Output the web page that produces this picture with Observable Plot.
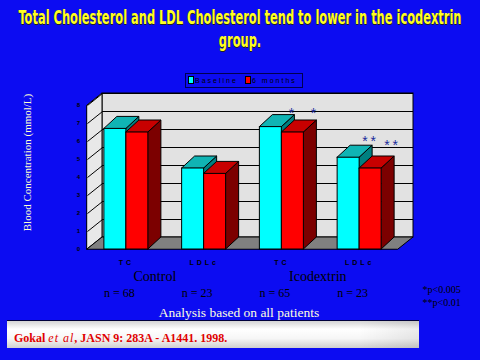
<!DOCTYPE html>
<html>
<head>
<meta charset="utf-8">
<script src="https://cdn.jsdelivr.net/npm/d3@7"></script>
<script src="https://cdn.jsdelivr.net/npm/@observablehq/plot@0.6"></script>
<style>
  html, body { margin: 0; padding: 0; }
  body { width: 480px; height: 360px; overflow: hidden; position: relative; background: #0c0cf2; }
  #title { position: relative; height: 56px; color: #ffff22;
    font: bold 19px/23px "Liberation Sans Narrow", "DejaVu Sans Condensed", "Liberation Sans", sans-serif;
    text-shadow: 1px 1px 0 #202020; }
  #title span { position: absolute; left: 50%; white-space: nowrap; transform-origin: center; }
  #t1 { top: 6px; }
  #t2 { top: 29px; }
  #legend { position: absolute; left: 185px; top: 73px; width: 118px; height: 15px; box-sizing: border-box; border: 1px solid #000050; }
  #legend .sw { position: absolute; top: 2px; width: 6px; height: 8px; border: 1px solid #000; box-sizing: border-box; }
  #legend .lt { position: absolute; top: 1px; font: 7px/11px "Liberation Sans", sans-serif; letter-spacing: 2px; color: #000; }
  #cite { position: absolute; left: 7px; top: 321px; width: 412px; height: 27px;
    background: linear-gradient(to bottom, #d4d4d4 0%, #ffffff 30%, #f6f6f6 65%, #cfcfcf 100%);
    box-shadow: 0 -1px 0 #00003a; }
  #cite::after { content: ""; position: absolute; right: 0; top: 0; bottom: 0; width: 60px;
    background: linear-gradient(to right, rgba(0,0,0,0) 0%, rgba(0,0,0,0.08) 100%); }
  #cite div { position: absolute; left: 7px; top: 10px; font: bold 12px/14px "Liberation Serif", serif; color: #e00000; white-space: nowrap; }
  #cite i { font-weight: normal; letter-spacing: 1px; }
  svg g[aria-description="xticks"] text { letter-spacing: 3px; }
  svg g[aria-description="sig"] text { letter-spacing: 3px; }
</style>
</head>
<body>
<div id="title"><span id="t1">Total Cholesterol and LDL Cholesterol tend to lower in the icodextrin</span><span id="t2">group.</span></div>
<div id="chart"></div>
<div id="legend">
  <span class="sw" style="left:2px;background:#00ffff"></span><span class="lt" style="left:9px">Baseline</span>
  <span class="sw" style="left:59px;background:#ff0000"></span><span class="lt" style="left:66px">6 months</span>
</div>
<div id="cite"><div>Gokal <i>et al</i>, JASN 9: 283A - A1441. 1998.</div></div>
<script>
// ---- data ----
const categories = ["TC", "LDLc", "TC", "LDLc"];
const groups = ["Control", "Icodextrin"];
const nLabels = ["n = 68", "n = 23", "n = 65", "n = 23"];
const series = ["Baseline", "6 months"];
const baseline = [6.7, 4.5, 6.8, 5.1];
const sixMonths = [6.5, 4.2, 6.5, 4.5];
const yTicks = [0, 1, 2, 3, 4, 5, 6, 7, 8];
const sigBaseline = ["", "", "*", "**"];
const sigSixMonths = ["", "", "*", "**"];
const sigLevelBaseline = [null, null, 7.8, 6.2];
const sigLevelSixMonths = [null, null, 7.8, 6.0];
const footnotes = ["*p<0.005", "**p<0.01"];
const yTitle = "Blood Concentration (mmol/L)";
const footer = "Analysis based on all patients";

// ---- title fit ----
(function () {
  const t1 = document.getElementById("t1"), t2 = document.getElementById("t2");
  const w = t1.getBoundingClientRect().width;
  const sc = 443 / w;
  t1.style.transform = `translateX(-50%) scaleX(${sc})`;
  t2.style.transform = `translateX(-50%) scaleX(${sc})`;
})();

// ---- geometry (style) ----
const W = 480, H = 262, mL = 87, mR = 82, mT = 49, mB = 69;
const xL = -0.5, xR = categories.length - 0.5, yMax = yTicks[yTicks.length - 1];
const ux = (W - mL - mR) / (xR - xL);
const uy = (H - mT - mB) / yMax;
const wallDx = 15 / ux, wallDy = 12 / uy;
const barDx = 13 / ux, barDy = 12 / uy, barW = 22 / ux;

const values = [baseline, sixMonths];
const sigs = [sigBaseline, sigSixMonths];
const sigLevels = [sigLevelBaseline, sigLevelSixMonths];
const frontColors = ["#00ffff", "#ff0000"];
const topColors = ["#10b4b4", "#c80000"];
const sideColors = ["#008080", "#7c0000"];

const bars = [];
series.forEach((name, s) => values[s].forEach((v, i) => {
  bars.push({ s, i, v, x1: i - barW + s * barW, x2: i + s * barW, sig: sigs[s][i], lvl: sigLevels[s][i] });
}));
const sides = bars.flatMap(b => [
  { z: b.s * 10 + b.i, s: b.s, x: b.x2, y1: 0, y2: b.v },
  { z: b.s * 10 + b.i, s: b.s, x: b.x2 + barDx, y1: barDy, y2: b.v + barDy }
]);
const tops = bars.flatMap(b => [
  { z: b.s * 10 + b.i, s: b.s, y: b.v, x1: b.x1, x2: b.x2 },
  { z: b.s * 10 + b.i, s: b.s, y: b.v + barDy, x1: b.x1 + barDx, x2: b.x2 + barDx }
]);

const marks = [
  // back wall
  Plot.rect([0], { x1: () => xL + wallDx, x2: () => xR + wallDx, y1: () => wallDy, y2: () => yMax + wallDy, fill: "#e2e2e2", stroke: "#000" }),
  Plot.ruleY(yTicks, { y: d => d + wallDy, x1: () => xL + wallDx, x2: () => xR + wallDx, stroke: "#000" }),
  // left wall
  Plot.areaY([{ x: xL, y1: 0, y2: yMax }, { x: xL + wallDx, y1: wallDy, y2: yMax + wallDy }],
    { x: "x", y1: "y1", y2: "y2", fill: "#e8e8e8", stroke: "#000" }),
  Plot.link(yTicks, { x1: () => xL, y1: d => d, x2: () => xL + wallDx, y2: d => d + wallDy, stroke: "#000" }),
  // floor
  Plot.areaX([{ y: 0, x1: xL, x2: xR }, { y: wallDy, x1: xL + wallDx, x2: xR + wallDx }],
    { y: "y", x1: "x1", x2: "x2", fill: "#808080", stroke: "#000" })
];
series.forEach((name, s) => {
  marks.push(
    Plot.areaY(sides.filter(d => d.s === s), { x: "x", y1: "y1", y2: "y2", z: "z", fill: sideColors[s], stroke: "#000", strokeWidth: 1 }),
    Plot.areaX(tops.filter(d => d.s === s), { y: "y", x1: "x1", x2: "x2", z: "z", fill: topColors[s], stroke: "#000", strokeWidth: 1 }),
    Plot.rect(bars.filter(d => d.s === s), { x1: "x1", x2: "x2", y1: () => 0, y2: "v", fill: frontColors[s], stroke: "#000", strokeWidth: 1 })
  );
});
marks.push(
  // y tick labels
  Plot.text(yTicks, { x: () => xL, y: d => d, dx: -9, text: d => String(d), fontSize: 6, fontWeight: "bold", fill: "#000" }),
  // y title
  Plot.text([yTitle], { x: () => xL, y: () => yMax / 2, dx: -60, dy: -15, rotate: -90, text: d => d,
    fontSize: 11, fontFamily: "Liberation Serif, serif", fill: "#ffffd0" }),
  // x tick labels
  Plot.text(categories, { x: (d, i) => i, y: () => 0, dy: 13, text: d => d, fontSize: 7, fontWeight: "bold", fill: "#000", ariaDescription: "xticks" }),
  // group labels
  Plot.text(groups, { x: (d, g) => 2 * g - 0.5, y: () => 0, dx: 46, dy: 27, text: d => d, textAnchor: "start",
    fontSize: 14, fontFamily: "Liberation Serif, serif", fill: "#000" }),
  // n labels
  Plot.text(nLabels, { x: (d, i) => i, y: () => 0, dx: -7, dy: 44, text: d => d, fontSize: 12, fontFamily: "Liberation Serif, serif", fill: "#000" }),
  // footer
  Plot.text([footer], { x: () => (xL + xR) / 2, y: () => 0, dx: -4, dy: 63, text: d => d, fontSize: 13.5, fontFamily: "Liberation Serif, serif", fill: "#ffffe0" }),
  // footnotes (two lines)
  Plot.text([footnotes.join("\n")], { x: () => xR, y: () => 0, dx: 24, dy: 46, text: d => d, textAnchor: "start", lineHeight: 1.3,
    fontSize: 10, fontFamily: "Liberation Serif, serif", fill: "#000" }),
  // significance
  Plot.text(bars.filter(b => b.sig), { x: b => b.x2 + barDx, y: "lvl", dx: -2, dy: 4, text: "sig", fontSize: 14, fontFamily: "Liberation Sans, sans-serif", fill: "#1a2a9a", ariaDescription: "sig" })
);

const chart = Plot.plot({
  width: W, height: H,
  marginLeft: mL, marginRight: mR, marginTop: mT, marginBottom: mB,
  x: { domain: [xL, xR], axis: null },
  y: { domain: [0, yMax], axis: null },
  style: { background: "transparent", overflow: "visible", fontFamily: "Liberation Sans, sans-serif" },
  marks
});
document.getElementById("chart").appendChild(chart);
</script>
</body>
</html>
